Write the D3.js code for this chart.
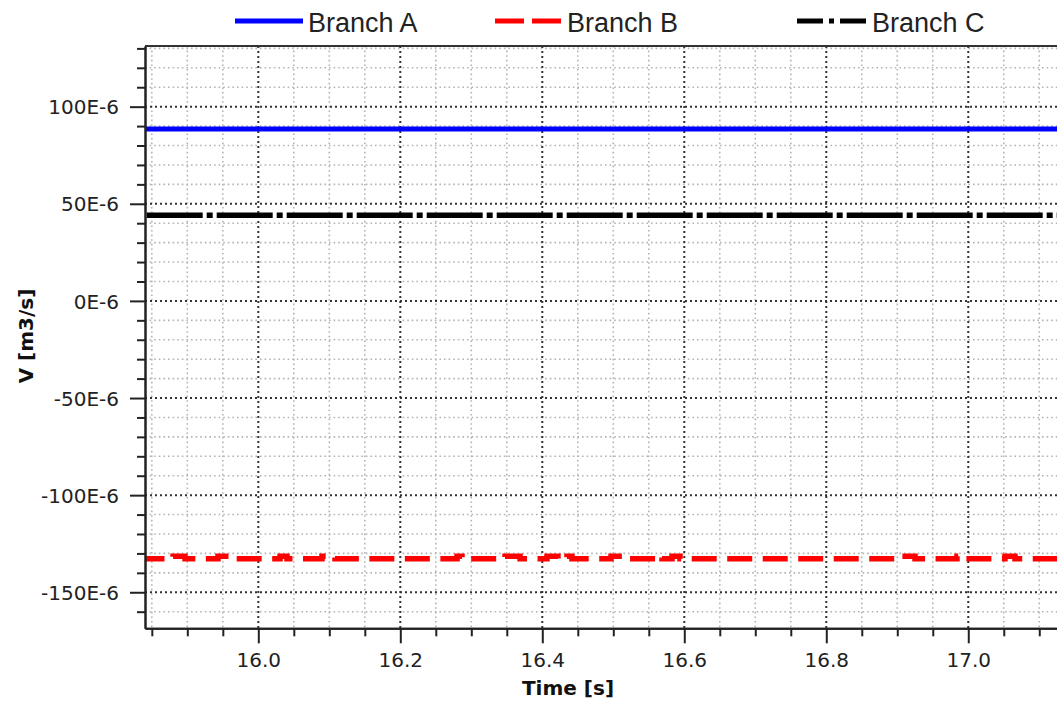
<!DOCTYPE html>
<html>
<head>
<meta charset="utf-8">
<script src="https://cdn.jsdelivr.net/npm/d3@7"></script>
<style>
  html, body { margin: 0; padding: 0; background: #fff; }
  svg { display: block; }
</style>
</head>
<body>
<script>
// ---------- data ----------
const seriesNames = ["Branch A", "Branch B", "Branch C"];
const seriesColors = ["#0000ff", "#ff0000", "#000000"];

const branchATime = [15.80, 17.20];
const branchAValue = [88.5e-6, 88.5e-6];

const branchCTime = [15.80, 17.20];
const branchCValue = [44.1e-6, 44.1e-6];

const branchBTime = [15.8404, 15.8799, 15.8968, 15.9432, 15.9644, 16.0306, 16.0404, 16.0897, 16.1080,
  16.2799, 16.2869, 16.3475, 16.3687, 16.4066, 16.4221, 16.4348, 16.4418, 16.4968, 16.5151,
  16.5630, 16.5686, 16.5827, 16.5940, 16.8996, 16.9250, 16.9841, 16.9925, 17.0517, 17.0658, 17.1292];
const branchBValue = [-132.7e-6, -131.5e-6, -132.7e-6, -131.5e-6, -132.7e-6, -131.5e-6, -132.7e-6, -131.5e-6, -132.7e-6,
  -131.5e-6, -132.7e-6, -131.5e-6, -132.7e-6, -131.5e-6, -132.7e-6, -131.5e-6, -132.7e-6, -131.5e-6, -132.7e-6,
  -131.5e-6, -132.7e-6, -131.5e-6, -132.7e-6, -131.5e-6, -132.7e-6, -131.5e-6, -132.7e-6, -131.5e-6, -132.7e-6, -132.7e-6];

const yTickValues = [-150e-6, -100e-6, -50e-6, 0, 50e-6, 100e-6];
const yTickLabels = ["-150E-6", "-100E-6", "-50E-6", "0E-6", "50E-6", "100E-6"];
const xTickValues = [16.0, 16.2, 16.4, 16.6, 16.8, 17.0];
const xTickLabels = ["16.0", "16.2", "16.4", "16.6", "16.8", "17.0"];
const xAxisTitle = "Time [s]";
const yAxisTitle = "V [m3/s]";

// ---------- layout ----------
const W = 1057, H = 702;
const pL = 145, pR = 1060, pT = 46, pB = 628.3;
const xDomain = [15.8404, 17.1292];
const yDomain = [-168.55e-6, 131.23e-6];

const svg = d3.select("body").append("svg").attr("width", W).attr("height", H);

const x = d3.scaleLinear().domain(xDomain).range([pL, pR]);
const y = d3.scaleLinear().domain(yDomain).range([pB, pT]);

const xMinor = d3.range(15.85, 17.13, 0.05).filter(v => !xTickValues.some(t => Math.abs(t - v) < 1e-6));
const yMinor = d3.range(-160e-6, 131e-6, 10e-6).filter(v => !yTickValues.some(t => Math.abs(t - v) < 1e-9));

// ---------- grid ----------
const grid = svg.append("g");
grid.selectAll("line.vmin").data(xMinor).join("line")
  .attr("x1", d => x(d)).attr("x2", d => x(d)).attr("y1", pT).attr("y2", pB)
  .attr("stroke", "#b4b4b4").attr("stroke-width", 1.6).attr("stroke-dasharray", "1.6,3");
grid.selectAll("line.hmin").data(yMinor).join("line")
  .attr("x1", pL).attr("x2", pR).attr("y1", d => y(d)).attr("y2", d => y(d))
  .attr("stroke", "#b4b4b4").attr("stroke-width", 1.6).attr("stroke-dasharray", "1.6,3");
grid.selectAll("line.vmaj").data(xTickValues).join("line")
  .attr("x1", d => x(d)).attr("x2", d => x(d)).attr("y1", pT).attr("y2", pB)
  .attr("stroke", "#333").attr("stroke-width", 2).attr("stroke-dasharray", "2,3");
grid.selectAll("line.hmaj").data(yTickValues).join("line")
  .attr("x1", pL).attr("x2", pR).attr("y1", d => y(d)).attr("y2", d => y(d))
  .attr("stroke", "#333").attr("stroke-width", 2).attr("stroke-dasharray", "2,3");

// ---------- series ----------
svg.append("clipPath").attr("id", "clip").append("rect")
  .attr("x", pL).attr("y", pT).attr("width", pR - pL).attr("height", pB - pT);
const plot = svg.append("g").attr("clip-path", "url(#clip)");

const line = d3.line().x(d => x(d[0])).y(d => y(d[1]));
const stepLine = d3.line().x(d => x(d[0])).y(d => y(d[1])).curve(d3.curveStepAfter);

plot.append("path").datum(branchCTime.map((t, i) => [t, branchCValue[i]]))
  .attr("d", line).attr("fill", "none").attr("stroke", seriesColors[2]).attr("stroke-width", 5.5)
  .attr("stroke-dasharray", "56,4,6,4").attr("stroke-dashoffset", 68.3 - (x(xDomain[0]) - x(branchCTime[0])));
plot.append("path").datum(branchBTime.map((t, i) => [t, branchBValue[i]]))
  .attr("d", stepLine).attr("fill", "none").attr("stroke", seriesColors[1]).attr("stroke-width", 5.5)
  .attr("stroke-dasharray", "25,10.5").attr("stroke-dashoffset", 5.5);
plot.append("path").datum(branchATime.map((t, i) => [t, branchAValue[i]]))
  .attr("d", line).attr("fill", "none").attr("stroke", seriesColors[0]).attr("stroke-width", 5);

// ---------- frame ----------
svg.append("line").attr("x1", pL).attr("x2", pR).attr("y1", pT).attr("y2", pT)
  .attr("stroke", "#333").attr("stroke-width", 2);

// ---------- axes ----------
const yAxis = svg.append("g").attr("transform", `translate(${pL},0)`)
  .call(d3.axisLeft(y).tickValues(yTickValues).tickSize(15).tickSizeOuter(0).tickPadding(11)
    .tickFormat((d, i) => yTickLabels[i]));
const yAxisMinor = svg.append("g").attr("transform", `translate(${pL},0)`)
  .call(d3.axisLeft(y).tickValues(yMinor).tickSize(8).tickSizeOuter(0).tickFormat(""));
const xAxis = svg.append("g").attr("transform", `translate(0,${pB})`)
  .call(d3.axisBottom(x).tickValues(xTickValues).tickSize(15).tickSizeOuter(0).tickPadding(10)
    .tickFormat((d, i) => xTickLabels[i]));
const xAxisMinor = svg.append("g").attr("transform", `translate(0,${pB})`)
  .call(d3.axisBottom(x).tickValues(xMinor).tickSize(8).tickSizeOuter(0).tickFormat(""));

[yAxis, yAxisMinor, xAxis, xAxisMinor].forEach(g => {
  g.selectAll("path.domain").attr("stroke", "#222").attr("stroke-width", 2);
  g.selectAll(".tick line").attr("stroke", "#222").attr("stroke-width", 2);
  g.selectAll(".tick text").attr("fill", "#222")
    .style("font-family", "'DejaVu Sans', sans-serif").style("font-size", "20px");
});
yAxis.selectAll(".tick text").attr("dy", "0.36em");

// axis titles
svg.append("text").attr("x", 568).attr("y", 695).attr("text-anchor", "middle")
  .style("font-family", "'DejaVu Sans', sans-serif").style("font-size", "20px").style("font-weight", "bold")
  .attr("fill", "#111").text(xAxisTitle);
svg.append("text").attr("transform", "translate(33,336) rotate(-90)").attr("text-anchor", "middle")
  .style("font-family", "'DejaVu Sans', sans-serif").style("font-size", "20px").style("font-weight", "bold")
  .attr("fill", "#111").text(yAxisTitle);

// ---------- legend ----------
const legendItems = [
  { x0: 235, x1: 303, tx: 308, dash: null },
  { x0: 495, x1: 561, tx: 567, dash: "29,8" },
  { x0: 797, x1: 866, tx: 872, dash: "26,6,5,6,26" }
];
const legend = svg.append("g");
legendItems.forEach((it, i) => {
  legend.append("line").attr("x1", it.x0).attr("x2", it.x1).attr("y1", 21).attr("y2", 21)
    .attr("stroke", seriesColors[i]).attr("stroke-width", 5)
    .attr("stroke-dasharray", it.dash);
  legend.append("text").attr("x", it.tx).attr("y", 31.5)
    .style("font-family", "'Liberation Sans', Arial, sans-serif").style("font-size", "27px")
    .attr("fill", "#222").text(seriesNames[i]);
});
</script>
</body>
</html>
